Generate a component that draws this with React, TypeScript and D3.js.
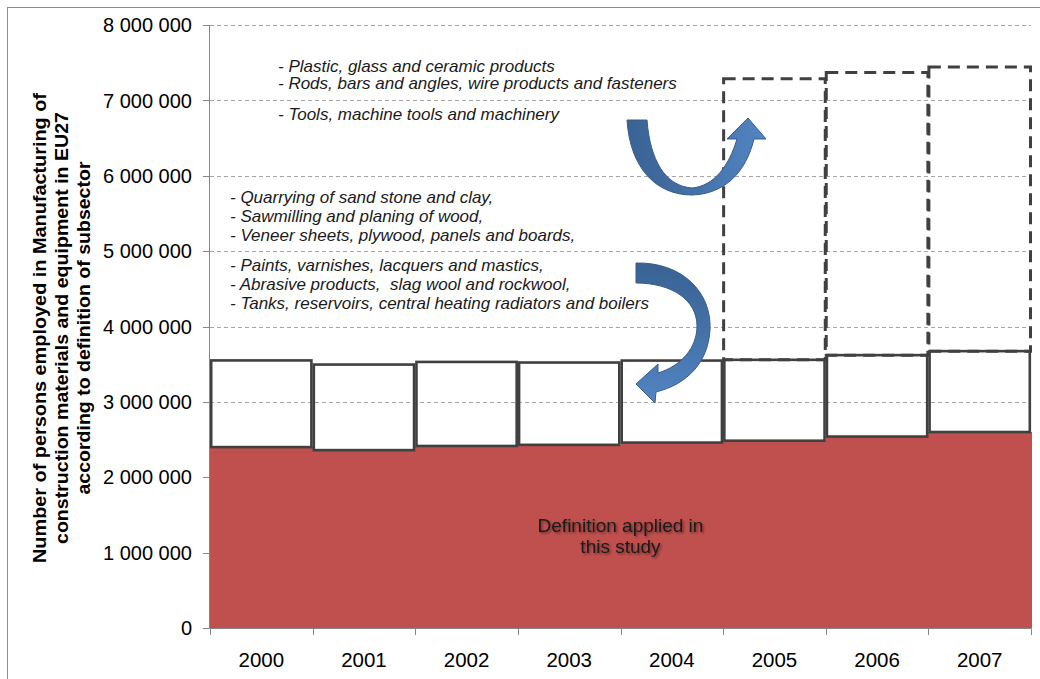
import React from "react";
import * as d3 from "d3";

const years = ["2000", "2001", "2002", "2003", "2004", "2005", "2006", "2007"];
// employment in the definition applied in this study
const studyDefinition = [2400000, 2360000, 2415000, 2430000, 2460000, 2485000, 2540000, 2600000];
// additional subsectors (solid white boxes)
const extraSubsectors = [1150000, 1135000, 1115000, 1092000, 1088000, 1073000, 1080000, 1073000];
// further subsectors (dashed boxes), only available 2005-2007
const furtherSubsectors = [0, 0, 0, 0, 0, 3730000, 3750000, 3770000];
const yTicks = [0, 1000000, 2000000, 3000000, 4000000, 5000000, 6000000, 7000000, 8000000];

const titleLines = [
  "Number of persons employed in Manufacturing of",
  "construction materials and equipment in EU27",
  "according to definition of subsector",
];
const noteTop = [
  "- Plastic, glass and ceramic products",
  "- Rods, bars and angles, wire products and fasteners",
  "- Tools, machine tools and machinery",
];
const noteBottom = [
  "- Quarrying of sand stone and clay,",
  "- Sawmilling and planing of wood,",
  "- Veneer sheets, plywood, panels and boards,",
  "- Paints, varnishes, lacquers and mastics,",
  "- Abrasive products,  slag wool and rockwool,",
  "- Tanks, reservoirs, central heating radiators and boilers",
];
const insideLabel = ["Definition applied in", "this study"];

const W = 1040;
const H = 679;
const FONT = "'Liberation Sans', Arial, Helvetica, sans-serif";

export default function App() {
  const x = d3.scaleBand<string>().domain(years).range([210, 1031]).padding(0);
  const y = d3.scaleLinear().domain([0, 8000000]).range([628, 25]);
  const locale = d3.formatLocale({ decimal: ".", thousands: " ", grouping: [3], currency: ["", ""] });
  const fmt = locale.format(",");

  const bw = x.bandwidth();
  const totals = studyDefinition.map((v, i) => v + extraSubsectors[i]);

  const titleCx = [40, 62, 84];
  const titleLen = [470, 432, 333];
  const titleCy = 328;

  const arrow1 =
    "M627,120 L647,120 C650,160 665,186 692,188 C714,186 729,166 737,139 L727,139 L748,118 L766,139 L754,139 C746,172 725,194 692,195 C656,195 630,168 627,120 Z";
  const arrow2 =
    "M636,263 C682,262 712,292 710,330 C708,362 688,384 656,392 L655,403 L636,384 L658,364 L658,373 C681,366 697,348 697,326 C697,300 672,283 636,283 Z";

  return (
    <svg width={W} height={H} style={{ position: "absolute", left: 0, top: 0, background: "#fff" }}>
      <defs>
        <linearGradient id="g1" x1="0" y1="0" x2="1" y2="0">
          <stop offset="0" stopColor="#3A6294" />
          <stop offset="0.5" stopColor="#4472A8" />
          <stop offset="1" stopColor="#5285C3" />
        </linearGradient>
        <linearGradient id="g2" x1="0" y1="0" x2="0" y2="1">
          <stop offset="0" stopColor="#3A6294" />
          <stop offset="0.5" stopColor="#4472A8" />
          <stop offset="1" stopColor="#5285C3" />
        </linearGradient>
        <filter id="shadow" x="-10%" y="-30%" width="120%" height="160%">
          <feDropShadow dx="1.5" dy="1.5" stdDeviation="1" floodColor="#000" floodOpacity="0.45" />
        </filter>
      </defs>
      <rect x={7.5} y={7.5} width={1200} height={900} fill="#fff" stroke="#8c8c8c" strokeWidth={1} />

      {/* gridlines */}
      {yTicks.slice(1).map((t) => (
        <line key={"g" + t} x1={210} x2={1031} y1={Math.round(y(t)) + 0.5} y2={Math.round(y(t)) + 0.5}
          stroke="#a6a6a6" strokeWidth={1} strokeDasharray="4,3" />
      ))}

      {/* red bars */}
      {years.map((yr, i) => (
        <rect key={"r" + yr} x={x(yr)!} y={y(studyDefinition[i])} width={bw + 0.6}
          height={y(0) - y(studyDefinition[i])} fill="#C0504D" shapeRendering="crispEdges" />
      ))}

      {/* dashed boxes */}
      {years.map((yr, i) =>
        furtherSubsectors[i] > 0 ? (
          <rect key={"d" + yr} x={x(yr)! + 0.5} y={y(totals[i] + furtherSubsectors[i])} width={bw - 1}
            height={y(totals[i]) - y(totals[i] + furtherSubsectors[i])} fill="none" stroke="#404040"
            strokeWidth={3} strokeDasharray="12,7" />
        ) : null
      )}

      {/* white boxes */}
      {years.map((yr, i) => (
        <rect key={"w" + yr} x={x(yr)! + 1.2} y={y(totals[i])} width={bw - 2.4}
          height={y(studyDefinition[i]) - y(totals[i])} fill="none" stroke="#404040" strokeWidth={2.6} />
      ))}

      {/* axes */}
      <line x1={209.5} x2={209.5} y1={y(8000000)} y2={628.5} stroke="#868686" />
      {yTicks.map((t) => (
        <g key={"yt" + t}>
          <line x1={203} x2={209.5} y1={Math.round(y(t)) + 0.5} y2={Math.round(y(t)) + 0.5} stroke="#868686" />
          <text x={192} y={y(t)} dy="0.36em" textAnchor="end" fontFamily={FONT} fontSize={20} fill="#000">
            {fmt(t)}
          </text>
        </g>
      ))}
      <line x1={209.5} x2={1031.5} y1={628.5} y2={628.5} stroke="#868686" />
      {[...years.map((yr) => x(yr)!), 1031].map((px, i) => (
        <line key={"xt" + i} x1={Math.round(px) + 0.5} x2={Math.round(px) + 0.5} y1={628.5} y2={635} stroke="#868686" />
      ))}
      {years.map((yr) => (
        <text key={"xl" + yr} x={x(yr)! + bw / 2} y={667} textAnchor="middle" fontFamily={FONT} fontSize={20.5} fill="#000">
          {yr}
        </text>
      ))}

      {/* y title */}
      {titleLines.map((l, i) => (
        <text key={"t" + i} transform={`translate(${titleCx[i]},${titleCy}) rotate(-90)`} textAnchor="middle"
          dy="0.36em" fontFamily={FONT} fontWeight="bold" fontSize={18} fill="#000"
          textLength={titleLen[i]} lengthAdjust="spacingAndGlyphs">
          {l}
        </text>
      ))}

      {/* annotations */}
      {noteTop.map((l, i) => (
        <text key={"nt" + i} x={278} y={[72, 89, 120][i]} fontFamily={FONT} fontStyle="italic" fontSize={17}
          fill="#1a1a1a" style={{ whiteSpace: "pre" }}>
          {l}
        </text>
      ))}
      {noteBottom.map((l, i) => (
        <text key={"nb" + i} x={230} y={[203, 222, 241, 271, 290, 309][i]} fontFamily={FONT} fontStyle="italic"
          fontSize={17} fill="#1a1a1a" style={{ whiteSpace: "pre" }}>
          {l}
        </text>
      ))}

      {/* arrows */}
      <path d={arrow1} fill="url(#g1)" stroke="#385D8A" strokeWidth={1} />
      <path d={arrow2} fill="url(#g2)" stroke="#385D8A" strokeWidth={1} />

      {/* inside label */}
      {insideLabel.map((l, i) => (
        <text key={"il" + i} x={(210 + 1031) / 2} y={[532, 553][i]} textAnchor="middle" fontFamily={FONT}
          fontSize={19} fill="#1a1a1a" filter="url(#shadow)">
          {l}
        </text>
      ))}
    </svg>
  );
}
